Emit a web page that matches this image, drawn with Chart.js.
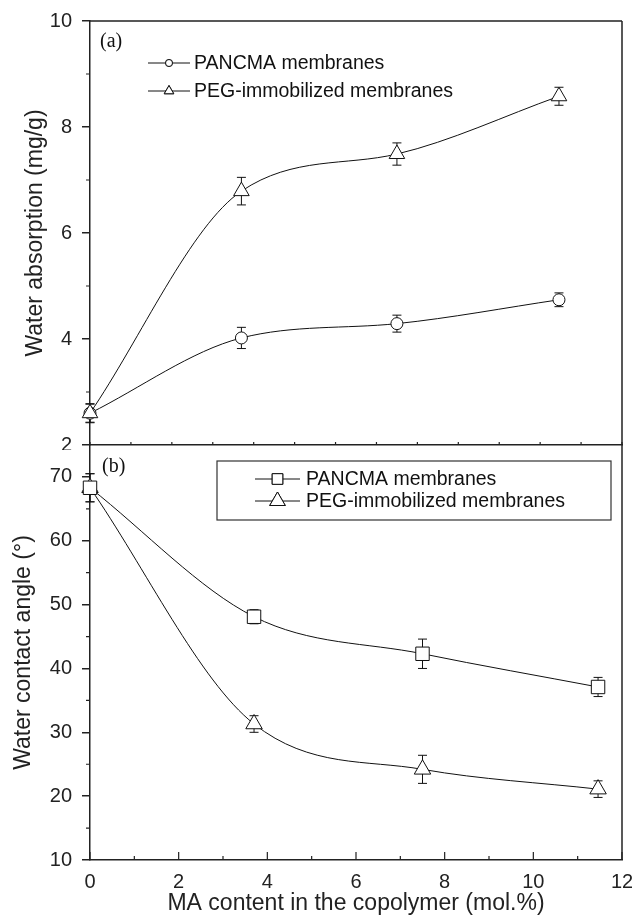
<!DOCTYPE html>
<html>
<head>
<meta charset="utf-8">
<script src="https://cdn.jsdelivr.net/npm/chart.js@4/dist/chart.umd.min.js"></script>
<style>
    body { margin: 0; background: #fff; }
    #wrap { position: relative; width: 632px; height: 920px; }
    canvas { position: absolute; left: 0; }
    #topChart { top: 0; }
    #bottomChart { top: 440px; }
</style>
</head>
<body>
<div id="wrap">
    <canvas id="topChart" width="632" height="450"></canvas>
    <canvas id="bottomChart" width="632" height="480"></canvas>
</div>
<script>
// MA content (mol.%) shared by both panels
const maContent = [0, 3.7, 7.5, 11.46];

// (a) water absorption, mg/g
const absorptionPancma = [2.6, 4.02, 4.29, 4.74];
const absorptionPancmaErr = [0.17, 0.2, 0.16, 0.13];
const absorptionPeg = [2.6, 6.79, 7.49, 8.58];
const absorptionPegErr = [0.18, 0.26, 0.21, 0.17];

// (b) water contact angle, degrees
const anglePancma = [68.3, 48.1, 42.3, 37.1];
const anglePancmaErr = [2.2, 1.1, 2.3, 1.5];
const anglePeg = [68.3, 31.3, 24.2, 21.1];
const anglePegErr = [2.2, 1.3, 2.2, 1.3];

const seriesNames = ['PANCMA membranes', 'PEG-immobilized membranes'];

const AXIS = '#222';
const INK = '#111';
const SANS = '"Liberation Sans", Arial, sans-serif';

const toPoints = (ys) => maContent.map((x, i) => ({ x: x, y: ys[i] }));

// keep the axis from asking for extra room around its end labels
function noPad(s) {
    s.paddingTop = 0;
    s.paddingBottom = 0;
    s.paddingLeft = 0;
    s.paddingRight = 0;
}

// Error bars, frame, minor ticks, inward x ticks, legend and panel label
const panelPlugin = {
    id: 'panel',
    beforeDatasetsDraw(chart) {
        const ctx = chart.ctx;
        const xs = chart.scales.x, ys = chart.scales.y;
        ctx.save();
        ctx.strokeStyle = INK;
        ctx.lineWidth = 1;
        chart.data.datasets.forEach(ds => {
            ds.errorBars.forEach((e, j) => {
                const px = xs.getPixelForValue(maContent[j]);
                const v = ds.data[j].y;
                const y1 = ys.getPixelForValue(v + e);
                const y2 = ys.getPixelForValue(v - e);
                ctx.beginPath();
                ctx.moveTo(px, y1); ctx.lineTo(px, y2);
                ctx.moveTo(px - 4.5, y1); ctx.lineTo(px + 4.5, y1);
                ctx.moveTo(px - 4.5, y2); ctx.lineTo(px + 4.5, y2);
                ctx.stroke();
            });
        });
        ctx.restore();
    },
    afterDraw(chart, args, opts) {
        const ctx = chart.ctx;
        const a = chart.chartArea;
        const xs = chart.scales.x, ys = chart.scales.y;
        ctx.save();
        ctx.strokeStyle = AXIS;
        ctx.lineWidth = 1.5;

        // frame: top and right edges
        ctx.beginPath();
        if (opts.frameTop) { ctx.moveTo(a.left, a.top); ctx.lineTo(a.right, a.top); }
        ctx.moveTo(a.right, a.top); ctx.lineTo(a.right, a.bottom);
        ctx.stroke();

        // minor y ticks, outward
        ctx.lineWidth = 1.2;
        ctx.beginPath();
        for (let v = ys.min + opts.yMinor; v < ys.max; v += opts.yMinor * 2) {
            const py = ys.getPixelForValue(v);
            ctx.moveTo(a.left - 4, py); ctx.lineTo(a.left, py);
        }
        // x ticks, inward
        for (let v = xs.min; v <= xs.max + 1e-9; v += opts.xStep) {
            const px = xs.getPixelForValue(v);
            const major = Math.abs(v / opts.xMajor - Math.round(v / opts.xMajor)) < 1e-6;
            const len = major ? opts.xMajorLen : opts.xMinorLen;
            ctx.moveTo(px, a.bottom); ctx.lineTo(px, a.bottom - len);
        }
        ctx.stroke();

        // panel label
        ctx.fillStyle = INK;
        ctx.font = '20px "Liberation Serif", "Times New Roman", serif';
        ctx.textBaseline = 'middle';
        ctx.textAlign = 'left';
        ctx.fillText(opts.label, opts.labelX, opts.labelY);

        // legend
        const lg = opts.legend;
        if (lg.box) {
            ctx.lineWidth = 1.2;
            ctx.strokeStyle = '#333';
            ctx.strokeRect(lg.box[0], lg.box[1], lg.box[2], lg.box[3]);
        }
        chart.data.datasets.forEach((ds, i) => {
            const y = lg.rows[i];
            ctx.strokeStyle = INK;
            ctx.lineWidth = 1;
            ctx.beginPath();
            ctx.moveTo(lg.lineFrom, y); ctx.lineTo(lg.lineTo, y);
            ctx.stroke();
            const mx = (lg.lineFrom + lg.lineTo) / 2;
            ctx.fillStyle = '#fff';
            Chart.helpers.drawPoint(ctx, {
                pointStyle: ds.pointStyle,
                radius: lg.radius[i],
                borderWidth: 1,
                rotation: 0
            }, mx, y);
            ctx.fill();
            ctx.stroke();
            ctx.fillStyle = INK;
            ctx.font = '19.5px ' + SANS;
            ctx.textBaseline = 'middle';
            ctx.fillText(ds.label, lg.textX, y + 1);
        });
        ctx.restore();
    }
};

function lineSet(label, ys, errs, style, radius, order) {
    return {
        label: label,
        data: toPoints(ys),
        errorBars: errs,
        order: order,
        borderColor: INK,
        borderWidth: 1,
        cubicInterpolationMode: 'monotone',
        pointStyle: style,
        pointRadius: radius,
        pointBorderWidth: 1,
        pointBorderColor: INK,
        pointBackgroundColor: '#fff',
        clip: false
    };
}

function yAxis(min, max, step, title, titlePad) {
    return {
        type: 'linear',
        min: min,
        max: max,
        afterFit: (s) => { s.width = 90; noPad(s); },
        ticks: {
            stepSize: step,
            includeBounds: false,
            padding: 10,
            color: AXIS,
            font: { family: SANS, size: 20 }
        },
        grid: {
            drawOnChartArea: false,
            drawTicks: true,
            tickLength: 8,
            tickColor: AXIS,
            lineWidth: 1.5
        },
        border: { display: true, color: AXIS, width: 1.5 },
        title: {
            display: true,
            text: title,
            color: AXIS,
            font: { family: SANS, size: 23 },
            padding: { top: titlePad, bottom: 0 }
        }
    };
}

Chart.defaults.font.family = SANS;

// Top panel (a)
new Chart(document.getElementById('topChart'), {
    type: 'line',
    data: {
        datasets: [
            lineSet(seriesNames[0], absorptionPancma, absorptionPancmaErr, 'circle', 6, 1),
            lineSet(seriesNames[1], absorptionPeg, absorptionPegErr, 'triangle', 9, 0)
        ]
    },
    options: {
        responsive: false,
        animation: false,
        devicePixelRatio: 1,
        layout: { autoPadding: false, padding: { top: 21, right: 10, bottom: 5, left: 0 } },
        plugins: {
            legend: { display: false },
            tooltip: { enabled: false },
            panel: {
                frameTop: true,
                yMinor: 1,
                xStep: 1, xMajor: 1, xMajorLen: 3, xMinorLen: 3,
                label: '(a)', labelX: 100, labelY: 42,
                legend: {
                    rows: [63, 91],
                    lineFrom: 148, lineTo: 190, textX: 194,
                    radius: [3.5, 5.5]
                }
            }
        },
        scales: {
            x: {
                type: 'linear',
                min: 0,
                max: 13,
                afterFit: (s) => { s.height = 0; noPad(s); },
                ticks: { display: false },
                grid: { display: false, drawTicks: false },
                border: { display: true, color: AXIS, width: 1.5 }
            },
            y: yAxis(2, 10, 2, 'Water absorption (mg/g)', 22)
        }
    },
    plugins: [panelPlugin]
});

// Bottom panel (b)
new Chart(document.getElementById('bottomChart'), {
    type: 'line',
    data: {
        datasets: [
            lineSet(seriesNames[0], anglePancma, anglePancmaErr, 'rect', 9.5, 0),
            lineSet(seriesNames[1], anglePeg, anglePegErr, 'triangle', 9.5, 1)
        ]
    },
    options: {
        responsive: false,
        animation: false,
        devicePixelRatio: 1,
        layout: { autoPadding: false, padding: { top: 5, right: 10, bottom: 0, left: 0 } },
        plugins: {
            legend: { display: false },
            tooltip: { enabled: false },
            panel: {
                frameTop: false,
                yMinor: 5,
                xStep: 1, xMajor: 2, xMajorLen: 8, xMinorLen: 4,
                label: '(b)', labelX: 102, labelY: 27,
                legend: {
                    box: [217, 21, 394, 59],
                    rows: [39, 61],
                    lineFrom: 255, lineTo: 300, textX: 306,
                    radius: [7.5, 9]
                }
            }
        },
        scales: {
            x: {
                type: 'linear',
                min: 0,
                max: 12,
                afterFit: (s) => { s.height = 60; noPad(s); },
                ticks: {
                    stepSize: 2,
                    padding: 10,
                    color: AXIS,
                    font: { family: SANS, size: 20 }
                },
                grid: { display: false, drawTicks: false },
                border: { display: true, color: AXIS, width: 1.5 },
                title: {
                    display: true,
                    text: 'MA content in the copolymer (mol.%)',
                    color: AXIS,
                    font: { family: SANS, size: 23 },
                    padding: { top: 0, bottom: 3 }
                }
            },
            y: yAxis(10, 75, 10, 'Water contact angle (\u00b0)', 10)
        }
    },
    plugins: [panelPlugin]
});
</script>
</body>
</html>
